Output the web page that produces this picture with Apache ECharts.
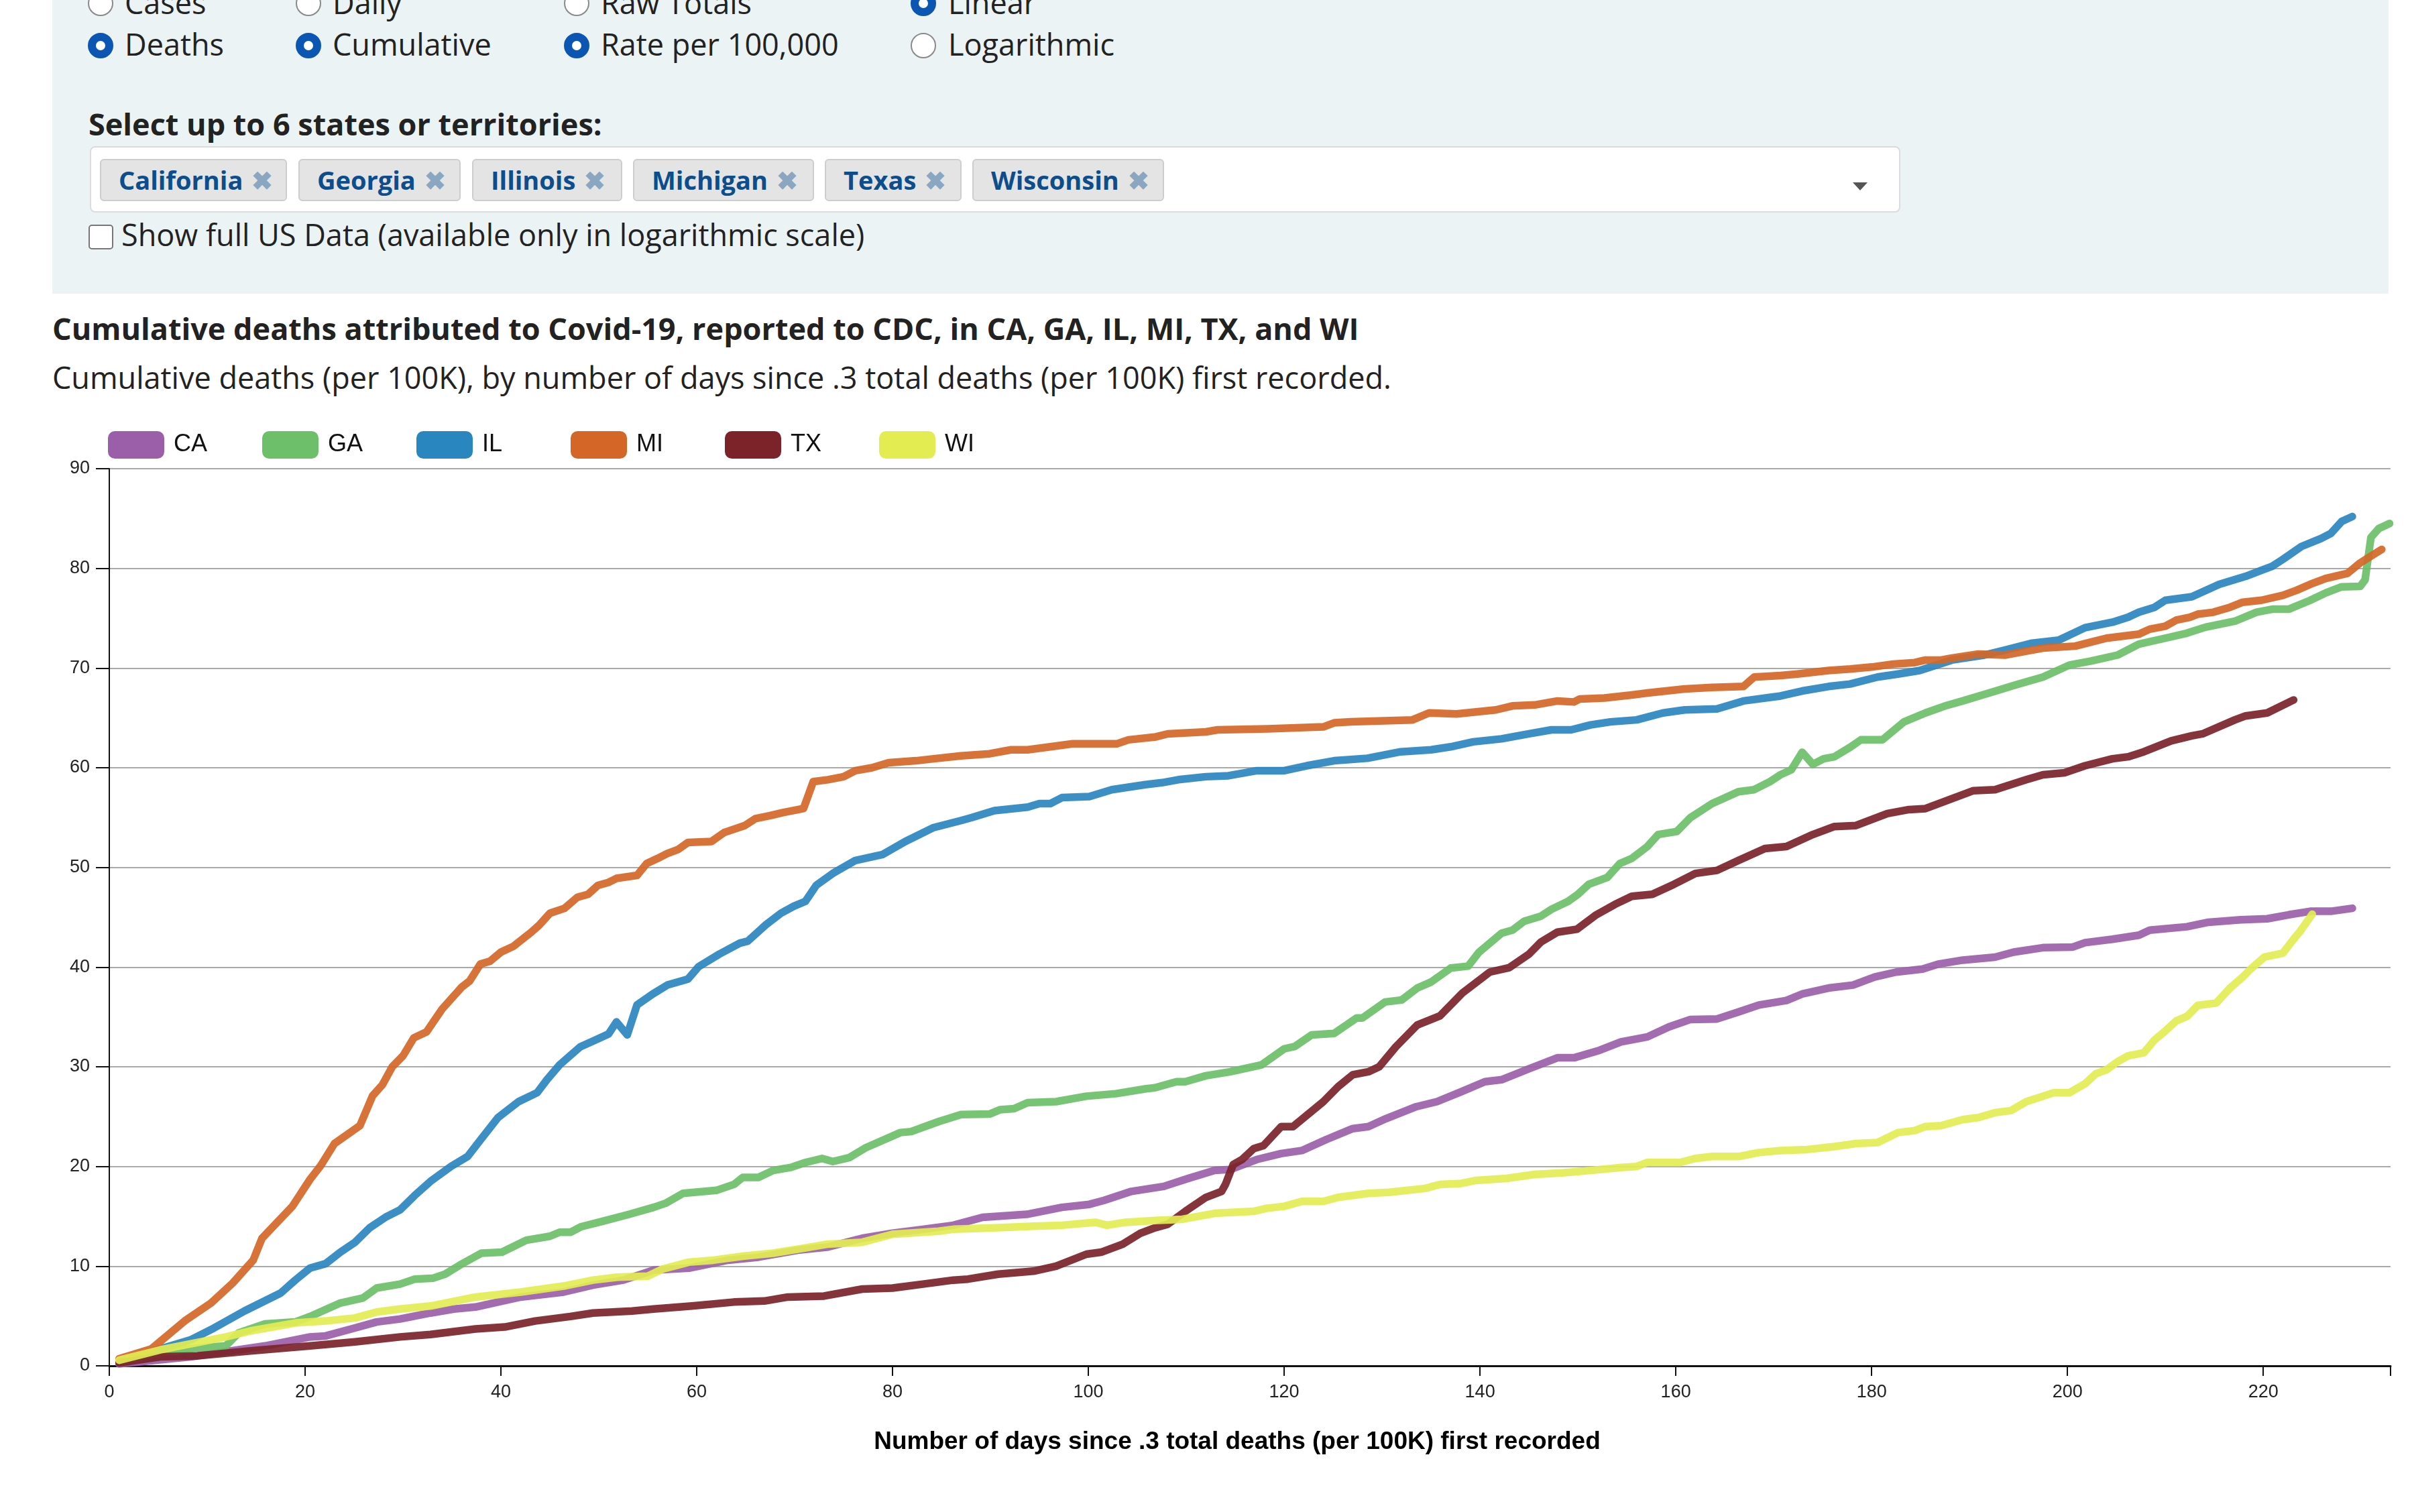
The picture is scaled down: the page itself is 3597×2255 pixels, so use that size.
<!DOCTYPE html>
<html>
<head>
<meta charset="utf-8">
<script src="https://cdn.jsdelivr.net/npm/echarts@6/dist/echarts.min.js"></script>
<style>
  html, body { margin:0; padding:0; width:3597px; height:2255px; background:#fff; overflow:hidden; }
  body { position:relative; font-family:"Open Sans", sans-serif; color:#222; }
  .abs { position:absolute; white-space:nowrap; }
  #panel { left:78px; top:0; width:3484px; height:438px; background:#ebf3f5; }
  .rtext { font-size:45px; line-height:60px; }
  .radio { width:38px; height:38px; border-radius:50%; box-sizing:border-box; }
  .off { background:#fff; border:2px solid #8a8a8a; }
  .on { background:#fff; border:12px solid #0b56b3; }
  #sel { left:134px; top:218px; width:2700px; height:99px; background:#fff; border:2px solid #dcdcdc; border-radius:8px; box-sizing:border-box; }
  .tag { top:237px; height:63px; background:#e4e4e4; border:2px solid #cdcdcd; border-radius:6px; box-sizing:border-box; font-weight:700; font-size:38px; line-height:59px; color:#0d4d8c; padding-left:26px; }
  .tag span { color:#8aa6c1; margin-left:13px; }
  #chart { position:absolute; left:0; top:0; width:3597px; height:2255px; }
</style>
</head>
<body>
<div class="abs" id="panel"></div>

<div class="abs radio off" style="left:131px;top:-14px;"></div>
<div class="abs rtext" style="left:186px;top:-26px;">Cases</div>
<div class="abs radio off" style="left:441px;top:-14px;"></div>
<div class="abs rtext" style="left:496px;top:-26px;">Daily</div>
<div class="abs radio off" style="left:841px;top:-14px;"></div>
<div class="abs rtext" style="left:896px;top:-26px;">Raw Totals</div>
<div class="abs radio on" style="left:1358px;top:-14px;"></div>
<div class="abs rtext" style="left:1414px;top:-26px;">Linear</div>

<div class="abs radio on" style="left:131px;top:49px;"></div>
<div class="abs rtext" style="left:186px;top:36px;">Deaths</div>
<div class="abs radio on" style="left:441px;top:49px;"></div>
<div class="abs rtext" style="left:496px;top:36px;">Cumulative</div>
<div class="abs radio on" style="left:841px;top:49px;"></div>
<div class="abs rtext" style="left:896px;top:36px;">Rate per 100,000</div>
<div class="abs radio off" style="left:1358px;top:49px;"></div>
<div class="abs rtext" style="left:1414px;top:36px;">Logarithmic</div>

<div class="abs rtext" style="left:132px;top:155px;font-weight:700;">Select up to 6 states or territories:</div>
<div class="abs" id="sel"></div>
<div class="abs tag" style="left:149px;width:279px;">California<span>✖</span></div>
<div class="abs tag" style="left:445px;width:242px;">Georgia<span>✖</span></div>
<div class="abs tag" style="left:704px;width:224px;">Illinois<span>✖</span></div>
<div class="abs tag" style="left:944px;width:270px;">Michigan<span>✖</span></div>
<div class="abs tag" style="left:1230px;width:204px;">Texas<span>✖</span></div>
<div class="abs tag" style="left:1450px;width:286px;">Wisconsin<span>✖</span></div>
<div class="abs" style="left:2763px;top:272px;width:0;height:0;border-left:11px solid transparent;border-right:11px solid transparent;border-top:12px solid #555;"></div>

<div class="abs" style="left:132px;top:335px;width:37px;height:37px;border:2px solid #777;border-radius:5px;background:#fff;box-sizing:border-box;"></div>
<div class="abs rtext" style="left:181px;top:320px;">Show full US Data (available only in logarithmic scale)</div>

<div class="abs rtext" style="left:78px;top:460px;font-weight:700;font-size:45px;">Cumulative deaths attributed to Covid-19, reported to CDC, in CA, GA, IL, MI, TX, and WI</div>
<div class="abs rtext" style="left:78px;top:533px;font-size:45px;">Cumulative deaths (per 100K), by number of days since .3 total deaths (per 100K) first recorded.</div>

<div id="chart"></div>

<script>
// ---- data (day since threshold, cumulative deaths per 100K) ----
const stateNames = ['CA', 'GA', 'IL', 'MI', 'TX', 'WI'];
const stateColors = ['#9b5ea9', '#6dbf69', '#2a86bf', '#d46728', '#7c232a', '#e3ed52'];
const xTicks = [0, 20, 40, 60, 80, 100, 120, 140, 160, 180, 200, 220];
const yTicks = [0, 10, 20, 30, 40, 50, 60, 70, 80, 90];

const caData = [[1,0.2],[8.3,0.9],[15.9,2.0],[20.5,2.9],[22.1,3.0],[25.1,3.8],[27.3,4.4],[29.7,4.7],[32.8,5.3],[35.2,5.7],[37.4,5.9],[42,6.9],[46.4,7.4],[49.4,8.1],[52.5,8.6],[55.6,9.6],[59.2,9.8],[63.2,10.6],[66.3,10.9],[70.3,11.6],[73.3,11.9],[76.9,12.8],[80,13.3],[83.1,13.7],[86.2,14.1],[89.2,14.9],[93.7,15.2],[97.3,15.9],[100.1,16.2],[101.6,16.6],[104.4,17.5],[107.7,18.0],[110.2,18.8],[112.9,19.6],[114.5,19.7],[117.2,20.7],[119.7,21.3],[121.8,21.6],[124.3,22.7],[127,23.8],[128.6,24.0],[130.4,24.8],[133.5,26.0],[135.6,26.5],[138.1,27.5],[140.5,28.5],[142.2,28.7],[145,29.8],[147.9,30.9],[149.6,30.9],[152.2,31.65],[154.4,32.5],[157.1,33.0],[159.3,34.0],[161.5,34.75],[164.2,34.8],[166.4,35.5],[168.5,36.2],[171.3,36.65],[172.9,37.3],[175.6,37.9],[178.1,38.2],[180.3,39.0],[182.5,39.5],[185.2,39.8],[186.8,40.3],[189.3,40.7],[192.6,41.0],[194.5,41.5],[197.5,41.95],[200.5,42.0],[201.8,42.45],[204.6,42.8],[207.3,43.2],[208.4,43.7],[212.2,44.05],[214.4,44.5],[217.7,44.75],[220.4,44.85],[222.6,45.25],[224.8,45.6],[226.9,45.6],[229.1,45.9]];

const gaData = [[1,0.45],[6.7,1.6],[11.9,2.0],[13.2,3.3],[15.9,4.2],[19,4.4],[20.5,4.95],[23.6,6.3],[25.9,6.8],[27.3,7.8],[29.7,8.2],[31.2,8.7],[33.1,8.8],[34.3,9.2],[35.8,10.1],[38,11.3],[40.1,11.4],[42.6,12.6],[45,13.0],[46,13.4],[47.1,13.4],[48.2,13.96],[50.4,14.5],[53.1,15.2],[55.6,15.9],[56.8,16.3],[58.6,17.3],[62,17.6],[63.8,18.2],[64.7,18.9],[66.3,18.9],[67.8,19.6],[69.6,19.9],[71.1,20.4],[72.8,20.8],[73.9,20.5],[75.6,20.9],[77.3,21.9],[80.8,23.4],[81.9,23.5],[84.7,24.5],[87,25.2],[89.9,25.25],[91,25.7],[92.4,25.8],[93.8,26.4],[96.7,26.5],[99.8,27.05],[102.8,27.3],[105.9,27.8],[106.8,27.9],[109,28.5],[109.9,28.5],[112,29.1],[114.5,29.5],[117.7,30.2],[120,31.8],[121.1,32.05],[122.8,33.2],[125.1,33.35],[127.4,34.9],[128,34.9],[130.3,36.5],[132,36.7],[133.6,37.9],[135,38.5],[137,39.9],[138.8,40.1],[139.9,41.5],[142.2,43.4],[143.3,43.7],[144.5,44.6],[146.2,45.1],[147.3,45.8],[149,46.6],[150,47.3],[151.1,48.3],[153,49.0],[154.3,50.4],[155.5,50.9],[157.1,52.1],[158.2,53.3],[160.1,53.6],[161.5,55.0],[163.7,56.4],[165.3,57.1],[166.4,57.6],[168,57.8],[169.6,58.6],[170.7,59.3],[171.8,59.8],[172.9,61.55],[174,60.35],[175.1,60.9],[176.2,61.1],[177.8,62.05],[178.9,62.8],[181.1,62.8],[183.3,64.6],[185.5,65.5],[187.7,66.26],[189.3,66.7],[192,67.5],[194.7,68.3],[197.5,69.1],[200.2,70.3],[202.4,70.7],[205.1,71.3],[207.3,72.4],[210,73.0],[212.2,73.5],[214.1,74.1],[217.1,74.7],[219.3,75.6],[220.9,75.9],[222.6,75.9],[224.8,76.8],[226.4,77.55],[228,78.15],[229.9,78.2],[230.4,78.85],[231,83.1],[231.8,84.0],[232.9,84.5]];

const ilData = [[1,0.45],[8.3,2.6],[10.7,3.8],[13.8,5.5],[17.5,7.3],[19,8.6],[20.5,9.8],[22.1,10.25],[23.6,11.4],[25.1,12.4],[26.6,13.85],[28.2,14.9],[29.7,15.65],[31.2,17.1],[32.8,18.5],[34.9,20.0],[36.6,21.0],[37.9,22.65],[39.7,24.9],[41.8,26.5],[43.7,27.4],[44.7,28.7],[46,30.2],[48.1,32.0],[49.7,32.7],[51,33.3],[51.8,34.5],[52.9,33.2],[53.9,36.2],[55.5,37.3],[57,38.2],[59.1,38.8],[60.2,40.05],[62.3,41.3],[64.4,42.4],[65.2,42.6],[66,43.3],[67,44.2],[68.6,45.4],[69.9,46.1],[71.1,46.6],[72.2,48.2],[73.9,49.4],[76.2,50.7],[79,51.3],[81.3,52.6],[84.2,54.0],[87,54.7],[88.1,55.0],[90.4,55.7],[93.8,56.05],[95,56.4],[96.1,56.4],[97.3,57.0],[100.1,57.1],[102.4,57.8],[105.8,58.3],[107.5,58.5],[109.2,58.8],[112,59.1],[114.3,59.2],[117.2,59.7],[120,59.7],[122.3,60.2],[125.1,60.7],[128.5,60.95],[131.9,61.6],[135,61.8],[137,62.1],[139.3,62.6],[142.2,62.9],[145,63.4],[147.3,63.8],[149.3,63.8],[151.3,64.3],[153.3,64.6],[156,64.8],[158.7,65.5],[160.9,65.8],[164.2,65.9],[166.9,66.7],[170.7,67.2],[172.9,67.7],[175.6,68.15],[177.8,68.4],[180.6,69.1],[182.7,69.4],[184.9,69.75],[188.2,70.8],[191.5,71.3],[193.6,71.8],[196.4,72.5],[199.1,72.8],[201.8,74.05],[204.6,74.6],[206.2,75.1],[207.3,75.6],[208.9,76.1],[210,76.8],[212.7,77.15],[215.5,78.4],[218.2,79.2],[219.8,79.8],[220.9,80.2],[222,80.9],[223.9,82.2],[225.9,83.0],[226.9,83.5],[228,84.7],[229.1,85.2]];

const miData = [[1,0.7],[4.3,1.7],[7.7,4.5],[10.4,6.3],[12.6,8.3],[14.7,10.6],[15.6,12.8],[18.7,16.0],[20.5,18.7],[21.6,20.1],[23,22.3],[25.6,24.1],[26.9,27.1],[27.9,28.2],[28.9,30.0],[30,31.1],[31.1,32.9],[32.4,33.5],[34,35.8],[36,38.0],[36.8,38.6],[37.9,40.3],[38.9,40.6],[40,41.5],[41.3,42.1],[43.1,43.5],[43.9,44.2],[45,45.4],[46.5,45.9],[47.8,47.0],[48.9,47.3],[49.9,48.2],[51,48.5],[51.8,48.9],[53.9,49.2],[54.9,50.4],[56,50.9],[57,51.4],[58.1,51.8],[59.1,52.5],[61.5,52.6],[62.8,53.5],[64.9,54.2],[66,54.9],[67.5,55.2],[68.8,55.5],[70.9,55.9],[71.9,58.6],[73.4,58.8],[75,59.1],[76.2,59.7],[77.9,60.0],[79.6,60.5],[82.4,60.7],[84.2,60.9],[87,61.2],[89.9,61.4],[92.1,61.8],[93.8,61.8],[96.1,62.1],[98.4,62.4],[102.9,62.4],[104.1,62.8],[106.9,63.1],[108.1,63.4],[112,63.6],[113.2,63.8],[118.3,63.9],[124,64.1],[125.1,64.5],[126.8,64.6],[133.1,64.8],[134.8,65.5],[137.6,65.4],[141.6,65.8],[143.3,66.2],[145.6,66.3],[147.9,66.7],[149.6,66.6],[150.2,66.9],[152.7,67.0],[155.5,67.3],[157.1,67.5],[160.9,67.9],[163.7,68.05],[166.9,68.15],[168,69.1],[170.7,69.25],[172.4,69.4],[175.6,69.75],[177.8,69.9],[180,70.1],[182.2,70.4],[184.4,70.55],[185.5,70.8],[187.1,70.8],[188.2,71.0],[190.9,71.4],[193.6,71.3],[195.8,71.7],[197.5,72.0],[200.8,72.2],[202.4,72.6],[204,73.0],[207.3,73.4],[208.4,73.9],[210,74.2],[211.1,74.8],[212.5,75.1],[213.3,75.4],[214.9,75.6],[216.6,76.1],[217.9,76.6],[219.8,76.8],[222,77.3],[223.4,77.8],[224.8,78.4],[226.4,79.0],[228.6,79.5],[229.9,80.55],[230.7,81.05],[232.1,81.9]];

const txData = [[1,0.3],[5.2,0.9],[9,1.0],[14.4,1.5],[20.5,2.0],[25.1,2.4],[29.7,2.9],[32.8,3.15],[37.4,3.7],[40.4,3.9],[43.5,4.5],[47.1,4.95],[49.4,5.3],[53.4,5.5],[55.6,5.7],[59.5,6.0],[63.8,6.4],[66.9,6.5],[69.3,6.9],[73,7.0],[76.9,7.7],[80,7.8],[83.1,8.2],[86.2,8.6],[87.7,8.7],[90.8,9.2],[94.4,9.5],[96.7,10.0],[99.8,11.2],[101.3,11.4],[103.5,12.2],[105.3,13.3],[106.8,13.85],[108.1,14.2],[109.9,15.5],[112,16.9],[113.6,17.5],[114,18.2],[114.8,20.2],[115.7,20.7],[116.9,21.8],[117.9,22.1],[119.7,24.0],[120.9,24.0],[124,26.5],[125.5,28.0],[127,29.2],[128.6,29.5],[129.7,30.0],[131.4,32.0],[133.6,34.2],[135.9,35.1],[138.2,37.4],[141,39.5],[143,39.95],[145,41.3],[146.2,42.5],[147.9,43.5],[149.9,43.8],[151.8,45.2],[153.8,46.3],[155.5,47.1],[157.6,47.3],[159.8,48.3],[162,49.4],[164.2,49.7],[166.4,50.7],[169.1,51.9],[171.3,52.1],[174,53.3],[176.2,54.1],[178.4,54.2],[181.6,55.4],[183.8,55.8],[185.5,55.9],[188.2,56.9],[190.4,57.7],[192.6,57.8],[195.8,58.8],[197.5,59.3],[199.7,59.5],[201.8,60.2],[204.6,60.9],[206.2,61.1],[207.8,61.6],[210.6,62.7],[212.7,63.2],[213.8,63.4],[217.1,64.8],[218.2,65.2],[220.4,65.5],[223.1,66.8]];

const wiData = [[1,0.56],[5.2,1.6],[11.9,2.9],[14.4,3.5],[19,4.3],[22.1,4.5],[25.1,4.8],[27.3,5.4],[29.7,5.7],[32.8,6.0],[37.4,6.9],[42,7.4],[46.4,8.0],[49.4,8.6],[51.9,8.9],[55,9.0],[56.5,9.7],[59.2,10.4],[61.7,10.6],[64.7,11.0],[67.8,11.3],[70.9,11.8],[73.3,12.2],[76.9,12.4],[80,13.2],[84.7,13.5],[86.2,13.7],[90.8,13.85],[94.4,14.0],[97.3,14.1],[100.7,14.4],[101.9,14.1],[103.8,14.4],[107.1,14.6],[109.6,14.7],[112.9,15.3],[116.9,15.5],[118.2,15.8],[120,16.0],[121.8,16.5],[124,16.5],[125.5,16.9],[128.6,17.3],[130.7,17.4],[134.4,17.8],[135.9,18.2],[138.1,18.3],[139.6,18.6],[142.7,18.8],[145.6,19.2],[148.4,19.35],[151.3,19.6],[154.4,19.9],[156,20.0],[157.1,20.4],[160.4,20.4],[162,20.8],[163.7,21.0],[166.4,21.0],[168.5,21.4],[170.7,21.6],[173.4,21.7],[176.2,22.0],[178.4,22.3],[180.6,22.4],[182.7,23.4],[184.4,23.6],[185.5,24.0],[187.1,24.1],[189.3,24.7],[190.9,24.9],[192.6,25.4],[194.2,25.6],[195.8,26.5],[197.5,27.05],[198.6,27.4],[200.2,27.4],[201.8,28.3],[202.9,29.3],[204,29.7],[205.1,30.5],[206.2,31.1],[207.8,31.4],[208.9,32.7],[210,33.6],[211.1,34.6],[212.2,35.05],[213.3,36.15],[215.2,36.4],[216.6,37.9],[217.9,39.0],[218.7,39.8],[220.1,41.0],[222,41.4],[223.1,42.8],[223.7,43.5],[225,45.3]];

const seriesData = [caData, gaData, ilData, miData, txData, wiData];

const chart = echarts.init(document.getElementById('chart'), null, { renderer: 'canvas' });
const fontChart = '"Liberation Sans", Arial, sans-serif';

const legends = stateNames.map((n, i) => ({
  data: [n],
  left: 161 + i * 230,
  top: 643,
  itemWidth: 84,
  itemHeight: 41,
  icon: 'roundRect',
  selectedMode: false,
  padding: 0,
  textStyle: { fontSize: 36, color: '#111', fontFamily: fontChart, padding: [0, 0, 0, 9] }
}));

const option = {
  backgroundColor: 'transparent',
  animation: false,
  legend: legends,
  grid: { left: 163, right: 32, top: 699, bottom: 218, containLabel: false },
  xAxis: {
    type: 'value',
    min: 0,
    max: 233,
    interval: 20,
    name: 'Number of days since .3 total deaths (per 100K) first recorded',
    nameLocation: 'middle',
    nameGap: 95,
    nameTextStyle: { fontSize: 37, fontWeight: 'bold', color: '#000', fontFamily: fontChart, padding: [0, 38, 0, 0] },
    axisLine: { show: true, lineStyle: { color: '#111', width: 3 } },
    axisTick: { show: true, length: 15, lineStyle: { color: '#111', width: 2 } },
    axisLabel: {
      margin: 26, fontSize: 27, color: '#222', fontFamily: fontChart,
      formatter: v => (xTicks.indexOf(v) >= 0 ? String(v) : '')
    },
    splitLine: { show: false }
  },
  yAxis: {
    type: 'value',
    min: 0,
    max: 90,
    interval: 10,
    axisLine: { show: true, lineStyle: { color: '#111', width: 2 } },
    axisTick: { show: true, length: 20, lineStyle: { color: '#111', width: 2 } },
    axisLabel: {
      margin: 29, fontSize: 27, color: '#222', fontFamily: fontChart,
      formatter: v => (yTicks.indexOf(v) >= 0 ? String(v) : '')
    },
    splitLine: { show: true, lineStyle: { color: '#aaaaaa', width: 2 } }
  },
  series: stateNames.map((n, i) => ({
    name: n,
    type: 'line',
    data: seriesData[i],
    showSymbol: false,
    symbol: 'none',
    smooth: false,
    color: stateColors[i],
    itemStyle: { color: stateColors[i] },
    lineStyle: { color: stateColors[i], width: 11.5, opacity: 0.92, cap: 'round', join: 'round' },
    emphasis: { disabled: true },
    z: 2 + i
  }))
};
chart.setOption(option);
</script>
</body>
</html>
